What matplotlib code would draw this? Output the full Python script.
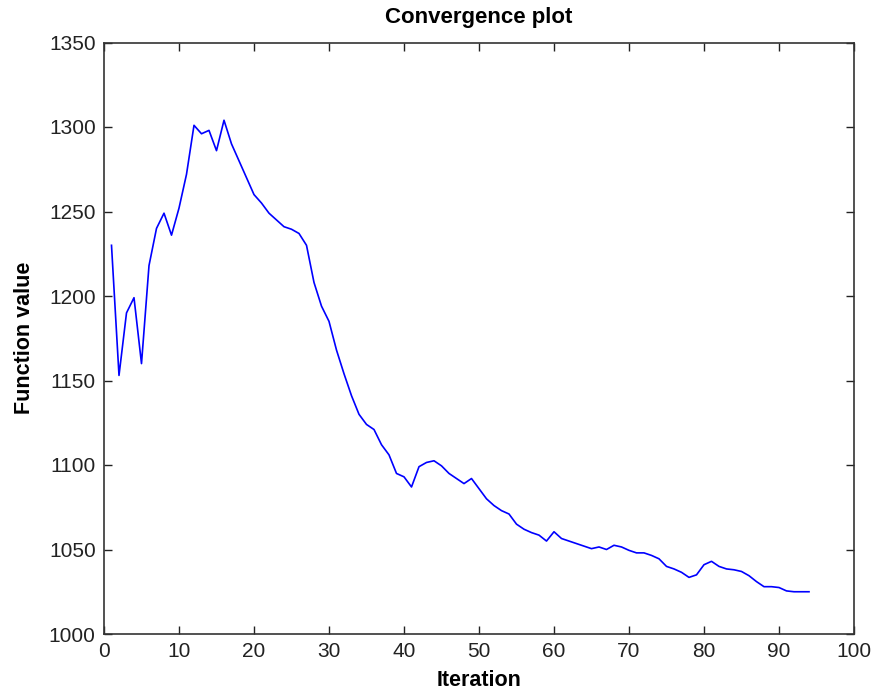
import matplotlib
matplotlib.use("Agg")
import matplotlib.pyplot as plt

# convergence history
iterations = list(range(1, 95))
values = [
    1230, 1153, 1190, 1199, 1160, 1218, 1240, 1249, 1236, 1252,
    1272, 1301, 1296, 1298, 1286, 1304, 1290, 1280, 1270, 1260,
    1255, 1249, 1245, 1241, 1239.5, 1237, 1230, 1208, 1194, 1185,
    1168, 1154, 1141, 1130, 1124, 1121, 1112, 1106, 1095, 1093,
    1087, 1099, 1101.5, 1102.5, 1099.5, 1095, 1092, 1089, 1092, 1086,
    1080, 1076, 1073, 1071, 1065, 1062, 1060, 1058.5, 1055, 1060.5,
    1056.5, 1055, 1053.5, 1052, 1050.5, 1051.5, 1050, 1052.5, 1051.5, 1049.5,
    1048, 1048, 1046.5, 1044.5, 1040, 1038.5, 1036.5, 1033.5, 1035, 1041,
    1043, 1040, 1038.5, 1038, 1037, 1034.5, 1031, 1028, 1028, 1027.5,
    1025.5, 1025, 1025, 1025,
]
xticks = list(range(0, 101, 10))
yticks = list(range(1000, 1351, 50))

plt.rcParams["font.family"] = ["Liberation Sans Narrow", "Liberation Sans", "DejaVu Sans"]

fig = plt.figure(figsize=(8.76, 6.98), dpi=100)
ax = fig.add_axes([104 / 876, 64 / 698, 750 / 876, 591.5 / 698])

ax.plot(iterations, values, color="#0000ff", lw=1.2)

ax.set_xlim(0, 100)
ax.set_ylim(1000, 1350)
ax.set_xticks(xticks)
ax.set_yticks(yticks)
ax.tick_params(direction="in", length=5.5, width=1, top=True, right=True,
               labelsize=15, colors="#222222", pad=6)
for s in ax.spines.values():
    s.set_color("#333333")
    s.set_linewidth(1.2)

bold = dict(family=["Liberation Sans", "DejaVu Sans"], fontweight="bold")
ax.set_title("Convergence plot", pad=14, fontsize=16, **bold)
ax.set_xlabel("Iteration", labelpad=6, fontsize=15.5, **bold)
ax.set_ylabel("Function value", labelpad=10, fontsize=15.5, **bold)

fig.savefig("out.png", dpi=100)
